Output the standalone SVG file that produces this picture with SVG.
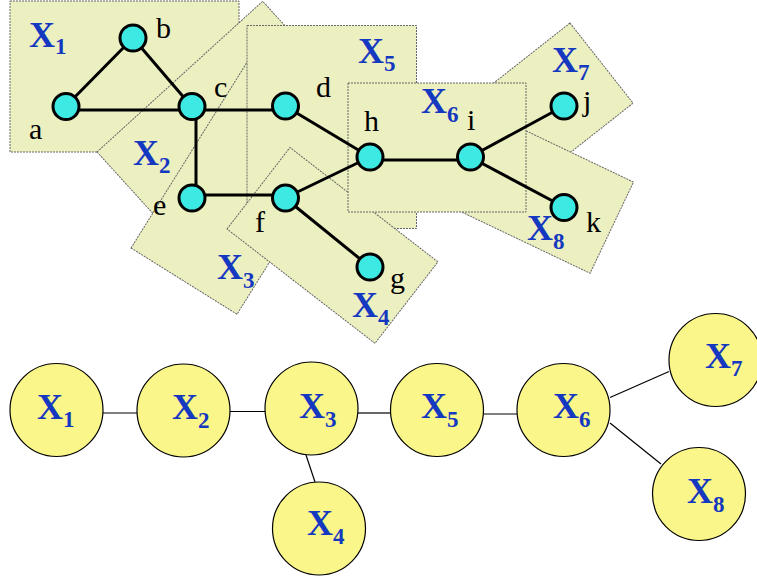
<svg xmlns="http://www.w3.org/2000/svg" width="757" height="581" viewBox="0 0 757 581">
  <style>
    .clu { fill: #ECEFC0; stroke: #666; stroke-width: 1; stroke-dasharray: 2 1; }
    .edge { stroke: #000; stroke-width: 3; fill: none; }
    .tedge { stroke: #000; stroke-width: 1.2; fill: none; }
    .var { fill: #3DE9E3; stroke: #000; stroke-width: 3; }
    .clq { fill: #FAF68A; stroke: #000; stroke-width: 1.2; }
  </style>

  <!-- cluster regions, back to front -->
  <g id="clusters" font-family="Liberation Serif, Times New Roman, serif" font-size="36px" font-weight="700" fill="#1538C0">
    <g id="cluster-X1">
      <rect class="clu" x="10" y="1" width="229" height="151"/>
      <text x="29" y="47">X<tspan font-size="23px" dy="7">1</tspan></text>
    </g>
    <g id="cluster-X2">
      <rect class="clu" width="224" height="110" transform="translate(97,152) rotate(-42.3)"/>
      <text x="133" y="165">X<tspan font-size="23px" dy="8">2</tspan></text>
    </g>
    <g id="cluster-X3">
      <rect class="clu" width="230" height="125" transform="translate(131,248) rotate(-58)"/>
      <text x="217" y="279">X<tspan font-size="23px" dy="9">3</tspan></text>
    </g>
    <g id="cluster-X5">
      <rect class="clu" x="247" y="25.5" width="169.5" height="203"/>
      <text x="358" y="63">X<tspan font-size="23px" dy="8">5</tspan></text>
    </g>
    <g id="cluster-X4">
      <rect class="clu" width="103" height="187" transform="translate(227,229) rotate(-52.3)"/>
      <text x="352" y="317">X<tspan font-size="23px" dy="8">4</tspan></text>
    </g>
    <g id="cluster-X7">
      <rect class="clu" width="102" height="160" transform="translate(570,23) rotate(51.8)"/>
      <text x="552" y="72">X<tspan font-size="23px" dy="8">7</tspan></text>
    </g>
    <g id="cluster-X8">
      <rect class="clu" width="200" height="101" transform="translate(453,96) rotate(25.5)"/>
      <text x="527" y="240">X<tspan font-size="23px" dy="9">8</tspan></text>
    </g>
    <g id="cluster-X6">
      <rect class="clu" x="348" y="83" width="178" height="129"/>
      <text x="421" y="113">X<tspan font-size="23px" dy="9">6</tspan></text>
    </g>
  </g>

  <!-- graph edges and junction tree links -->
  <g id="connectors">
    <line class="edge" x1="66" y1="106" x2="133" y2="38"/>
    <line class="edge" x1="133" y1="38" x2="192" y2="107"/>
    <line class="edge" x1="66" y1="110" x2="192" y2="110"/>
    <line class="edge" x1="192" y1="110" x2="285" y2="110"/>
    <line class="edge" x1="196" y1="107" x2="196" y2="197"/>
    <line class="edge" x1="192" y1="195" x2="285" y2="195"/>
    <line class="edge" x1="285" y1="106" x2="370" y2="157"/>
    <line class="edge" x1="285" y1="198" x2="370" y2="157"/>
    <line class="edge" x1="285" y1="198" x2="370" y2="267"/>
    <line class="edge" x1="370" y1="160" x2="470" y2="160"/>
    <line class="edge" x1="470" y1="157" x2="564" y2="106"/>
    <line class="edge" x1="470" y1="157" x2="564" y2="207"/>

    <line class="tedge" x1="103" y1="413" x2="137" y2="413"/>
    <line class="tedge" x1="230" y1="411.5" x2="265" y2="411.5"/>
    <line class="tedge" x1="358" y1="413" x2="390" y2="413"/>
    <line class="tedge" x1="484" y1="414" x2="517" y2="414"/>
    <line class="tedge" x1="306" y1="455" x2="315" y2="482"/>
    <line class="tedge" x1="610" y1="397.5" x2="669" y2="371.5"/>
    <line class="tedge" x1="610" y1="423" x2="661" y2="464"/>
  </g>

  <!-- variables -->
  <g id="variables" font-family="Liberation Serif, Times New Roman, serif" font-size="30px" fill="#000">
    <g id="node-a"><circle class="var" cx="66" cy="106.5" r="13"/><text x="29" y="139">a</text></g>
    <g id="node-b"><circle class="var" cx="133" cy="38" r="13"/><text x="156" y="38">b</text></g>
    <g id="node-c"><circle class="var" cx="192" cy="106.5" r="13"/><text x="214" y="97">c</text></g>
    <g id="node-d"><circle class="var" cx="285.5" cy="106" r="13"/><text x="316" y="97">d</text></g>
    <g id="node-e"><circle class="var" cx="192" cy="198" r="13"/><text x="153" y="215">e</text></g>
    <g id="node-f"><circle class="var" cx="285.5" cy="198" r="13"/><text x="255" y="232">f</text></g>
    <g id="node-g"><circle class="var" cx="370" cy="267" r="13"/><text x="390" y="288">g</text></g>
    <g id="node-h"><circle class="var" cx="370" cy="157" r="13"/><text x="364" y="131">h</text></g>
    <g id="node-i"><circle class="var" cx="470.5" cy="157" r="13"/><text x="467" y="130">i</text></g>
    <g id="node-j"><circle class="var" cx="564" cy="106" r="13"/><text x="583" y="111">j</text></g>
    <g id="node-k"><circle class="var" cx="564" cy="207.5" r="13"/><text x="586" y="232">k</text></g>
  </g>

  <!-- junction tree cliques -->
  <g id="cliques" font-family="Liberation Serif, Times New Roman, serif" font-size="36px" font-weight="700" fill="#1538C0">
    <g id="clique-X1"><circle class="clq" cx="56.5" cy="410" r="46.5"/><text x="37" y="419">X<tspan font-size="23px" dy="8">1</tspan></text></g>
    <g id="clique-X2"><circle class="clq" cx="183.5" cy="410.5" r="46.5"/><text x="172" y="419">X<tspan font-size="23px" dy="9">2</tspan></text></g>
    <g id="clique-X3"><circle class="clq" cx="311.5" cy="408.5" r="46.5"/><text x="299" y="418">X<tspan font-size="23px" dy="9">3</tspan></text></g>
    <g id="clique-X4"><circle class="clq" cx="319" cy="528.5" r="46.5"/><text x="307" y="535">X<tspan font-size="23px" dy="9">4</tspan></text></g>
    <g id="clique-X5"><circle class="clq" cx="437" cy="410" r="46.5"/><text x="421" y="418">X<tspan font-size="23px" dy="9">5</tspan></text></g>
    <g id="clique-X6"><circle class="clq" cx="563.5" cy="410" r="46.5"/><text x="553" y="418">X<tspan font-size="23px" dy="9">6</tspan></text></g>
    <g id="clique-X7"><circle class="clq" cx="715.5" cy="360" r="46.5"/><text x="705" y="368">X<tspan font-size="23px" dy="8">7</tspan></text></g>
    <g id="clique-X8"><circle class="clq" cx="699" cy="494" r="46.5"/><text x="687" y="503">X<tspan font-size="23px" dy="9">8</tspan></text></g>
  </g>
</svg>
